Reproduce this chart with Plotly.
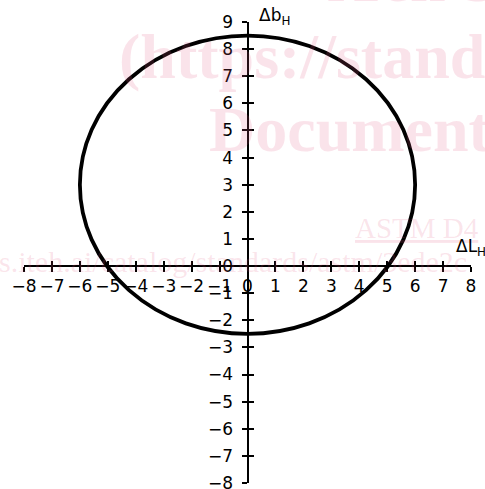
import plotly.graph_objects as go

# ---- data ----
x_ticks = list(range(-8, 9))
y_ticks = list(range(-8, 10))
x_range = [-8, 8]
y_range = [-8, 9]
ellipse_center = [0.0, 3.0]     # (ΔL_H, Δb_H)
ellipse_radii = [6.0, 5.5]      # semi-axes along ΔL_H and Δb_H
x_title = "ΔL<sub>H</sub>"
y_title = "Δb<sub>H</sub>"
watermark_lines = ["iTeh Standards", "(https://standards.iteh.ai)", "Document Preview"]
watermark_std = "ASTM D4"
watermark_url = "s.iteh.ai/catalog/standards/astm/3ede2c"

# ---- layout geometry ----
W, H = 485, 489
L, R, T, B = 24, 14, 22, 6
pw, ph = W - L - R, H - T - B


def px_x(px):
    return (px - L) / pw


def px_y(py):
    return (H - B - py) / ph


x_pos = (0 - y_range[0]) / (y_range[1] - y_range[0])
y_pos = (0 - x_range[0]) / (x_range[1] - x_range[0])

tickfont = dict(family="DejaVu Sans", size=17, color="black")

fig = go.Figure()
fig.add_trace(go.Scatter(x=[], y=[], showlegend=False, hoverinfo="skip"))
fig.add_trace(go.Scatter(x=[], y=[], xaxis="x2", yaxis="y2", showlegend=False, hoverinfo="skip"))

# ellipse drawn in data coordinates
cx, cy = ellipse_center
rx, ry = ellipse_radii
fig.add_shape(type="circle", xref="x", yref="y",
              x0=cx - rx, x1=cx + rx, y0=cy - ry, y1=cy + ry,
              line=dict(color="black", width=3.8), layer="above")

axis_common = dict(showgrid=False, zeroline=False, tickwidth=2, ticklen=5, tickcolor="black")

fig.update_layout(
    width=W, height=H,
    margin=dict(l=L, r=R, t=T, b=B, autoexpand=False),
    paper_bgcolor="white", plot_bgcolor="rgba(0,0,0,0)",
    showlegend=False, hovermode=False,
    xaxis=dict(range=x_range, domain=[0, 1], anchor="free", position=x_pos,
               showline=True, linewidth=2, linecolor="black",
               ticks="outside", tickvals=x_ticks, tickfont=tickfont,
               ticklabelstandoff=0, ticklabeloverflow="allow", **axis_common),
    yaxis=dict(range=y_range, domain=[0, 1], anchor="free", position=y_pos,
               showline=True, linewidth=2, linecolor="black",
               ticks="outside", tickvals=y_ticks, tickfont=tickfont,
               ticklabelstandoff=5, ticklabeloverflow="allow", **axis_common),
    xaxis2=dict(range=x_range, overlaying="x", anchor="free", position=x_pos,
                showline=False, ticks="inside", tickvals=x_ticks,
                showticklabels=False, **axis_common),
    yaxis2=dict(range=y_range, overlaying="y", anchor="free", position=y_pos,
                showline=False, ticks="inside", tickvals=y_ticks,
                showticklabels=False, **axis_common),
)

# watermark (faint)
wm_color = "rgba(225,90,130,0.17)"
wm_font = dict(family="Liberation Serif", size=64, color=wm_color)
wm_pos = [(325, -21), (117, 56), (207, 129)]
annotations = []
for text, (px, py) in zip(watermark_lines, wm_pos):
    annotations.append(dict(text="<b>" + text + "</b>", xref="paper", yref="paper",
                            x=px_x(px), y=px_y(py), xanchor="left", yanchor="middle",
                            showarrow=False, font=wm_font))
annotations.append(dict(text="<u>" + watermark_std + "</u>", xref="paper", yref="paper",
                        x=px_x(353), y=px_y(228), xanchor="left", yanchor="middle",
                        showarrow=False,
                        font=dict(family="Liberation Serif", size=29, color=wm_color)))
annotations.append(dict(text=watermark_url, xref="paper", yref="paper",
                        x=px_x(-3), y=px_y(261), xanchor="left", yanchor="middle",
                        showarrow=False,
                        font=dict(family="Liberation Serif", size=30, color=wm_color)))

# axis titles
annotations.append(dict(text=x_title, xref="paper", yref="paper",
                        x=px_x(454), y=px_y(247), xanchor="left", yanchor="middle",
                        showarrow=False, font=tickfont))
annotations.append(dict(text=y_title, xref="paper", yref="paper",
                        x=px_x(257), y=px_y(17), xanchor="left", yanchor="middle",
                        showarrow=False, font=tickfont))
fig.update_layout(annotations=annotations)

fig.write_html("out.html",
               config={"displayModeBar": False, "staticPlot": True},
               post_script="document.body.style.margin='0';document.body.style.overflow='hidden';")
